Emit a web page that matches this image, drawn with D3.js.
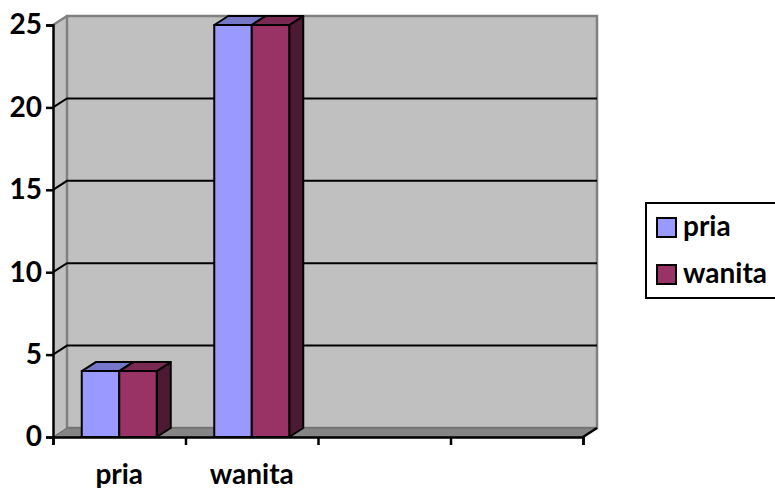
<!DOCTYPE html>
<html>
<head>
<meta charset="utf-8">
<script src="https://cdn.jsdelivr.net/npm/d3@7"></script>
<style>
  body { margin: 0; background: #fff; }
  svg { display: block; }
  text { font-family: Lato, "Open Sans", sans-serif; font-weight: bold; }
</style>
</head>
<body>
<div id="chart"></div>
<script>
// chart data
var categories = ["pria", "wanita", "", ""];
var seriesNames = ["pria", "wanita"];
var priaValues = [4, 25, null, null];
var wanitaValues = [4, 25, null, null];
var yTicks = [0, 5, 10, 15, 20, 25];

var seriesColors = {
  pria: { front: "#9999ff", top: "#7777c8", side: "#5a5aa0" },
  wanita: { front: "#993366", top: "#7a2952", side: "#4d1a33" }
};

var width = 775, height = 488;
var plotLeft = 53, plotRight = 583, plotBottom = 437, plotTop = 25;
var dx = 14, dy = -9; // 3d depth offset

var svg = d3.select("#chart").append("svg")
    .attr("width", width)
    .attr("height", height);

var y = d3.scaleLinear().domain([0, 25]).range([plotBottom, plotTop]);
var x0 = d3.scaleBand()
    .domain(d3.range(categories.length))
    .range([plotLeft, plotRight])
    .paddingInner(0.434)
    .paddingOuter(0.217);
var x1 = d3.scaleBand().domain(seriesNames).range([0, x0.bandwidth()]);
var xEdge = d3.scaleLinear().domain([0, categories.length]).range([plotLeft, plotRight]);

// walls
svg.append("polygon")
    .attr("points", [[plotLeft, plotBottom], [plotLeft, plotTop], [plotLeft + dx, plotTop + dy], [plotLeft + dx, plotBottom + dy]].join(" "))
    .attr("fill", "#c0c0c0");
svg.append("rect")
    .attr("x", plotLeft + dx).attr("y", plotTop + dy)
    .attr("width", plotRight - plotLeft).attr("height", plotBottom - plotTop)
    .attr("fill", "#c0c0c0")
    .attr("stroke", "#808080").attr("stroke-width", 2.5);
svg.append("line")
    .attr("x1", plotLeft).attr("y1", plotTop).attr("x2", plotLeft + dx).attr("y2", plotTop + dy)
    .attr("stroke", "#808080").attr("stroke-width", 2.5);

// gridlines on side and back wall
var grid = svg.append("g");
yTicks.filter(function(v) { return v > 0 && v < 25; }).forEach(function(v) {
  grid.append("polyline")
      .attr("points", [[plotLeft, y(v)], [plotLeft + dx, y(v) + dy], [plotRight + dx, y(v) + dy]].join(" "))
      .attr("fill", "none")
      .attr("stroke", "#000").attr("stroke-width", 2);
});

// floor
svg.append("polygon")
    .attr("points", [[plotLeft, plotBottom], [plotLeft + dx, plotBottom + dy], [plotRight + dx, plotBottom + dy], [plotRight, plotBottom]].join(" "))
    .attr("fill", "#858585")
    .attr("stroke", "#666").attr("stroke-width", 1);
svg.append("line")
    .attr("x1", plotRight).attr("y1", plotBottom).attr("x2", plotRight + dx).attr("y2", plotBottom + dy)
    .attr("stroke", "#000").attr("stroke-width", 2.5);

// y axis
var yAxis = svg.append("g")
    .attr("transform", "translate(" + plotLeft + ",0)")
    .call(d3.axisLeft(y).tickValues(yTicks).tickSize(7).tickPadding(4));
yAxis.select(".domain").attr("stroke", "#000").attr("stroke-width", 2.5);
yAxis.selectAll(".tick line").attr("stroke", "#000").attr("stroke-width", 2.5);
yAxis.selectAll(".tick text")
    .attr("font-size", 28).attr("font-family", null).attr("fill", "#000");

// x axis
var xAxis = svg.append("g")
    .attr("transform", "translate(0," + plotBottom + ")")
    .call(d3.axisBottom(xEdge).ticks(categories.length).tickSize(8).tickFormat(""));
xAxis.select(".domain").attr("stroke", "#000").attr("stroke-width", 2.5);
xAxis.selectAll(".tick line").attr("stroke", "#000").attr("stroke-width", 2.5);

svg.append("g").selectAll("text")
    .data(categories)
    .join("text")
    .attr("x", function(d, i) { return x0(i) + x0.bandwidth() / 2; })
    .attr("y", 484)
    .attr("text-anchor", "middle")
    .attr("font-size", 28)
    .text(function(d) { return d; });

// bars
var bars = [];
categories.forEach(function(c, i) {
  [priaValues, wanitaValues].forEach(function(vals, s) {
    if (vals[i] != null) bars.push({ cat: i, series: seriesNames[s], value: vals[i] });
  });
});

var g = svg.append("g")
    .attr("stroke", "#000").attr("stroke-width", 2).attr("stroke-linejoin", "round");
bars.forEach(function(d) {
  var xa = x0(d.cat) + x1(d.series), xb = xa + x1.bandwidth();
  var yt = y(d.value), yb = y(0);
  var col = seriesColors[d.series];
  g.append("polygon")
      .attr("points", [[xb, yb], [xb, yt], [xb + dx, yt + dy], [xb + dx, yb + dy]].join(" "))
      .attr("fill", col.side);
  g.append("polygon")
      .attr("points", [[xa, yt], [xa + dx, yt + dy], [xb + dx, yt + dy], [xb, yt]].join(" "))
      .attr("fill", col.top);
  g.append("rect")
      .attr("x", xa).attr("y", yt)
      .attr("width", xb - xa).attr("height", yb - yt)
      .attr("fill", col.front);
});

// legend
var legend = svg.append("g");
legend.append("rect")
    .attr("x", 646).attr("y", 203)
    .attr("width", 150).attr("height", 95)
    .attr("fill", "#fff").attr("stroke", "#000").attr("stroke-width", 2);
seriesNames.forEach(function(name, i) {
  legend.append("rect")
      .attr("x", 657).attr("y", 218 + i * 47)
      .attr("width", 19).attr("height", 19)
      .attr("fill", seriesColors[name].front)
      .attr("stroke", "#000").attr("stroke-width", 2);
  legend.append("text")
      .attr("x", 683).attr("y", 236 + i * 47)
      .attr("font-size", 28)
      .text(name);
});
</script>
</body>
</html>
